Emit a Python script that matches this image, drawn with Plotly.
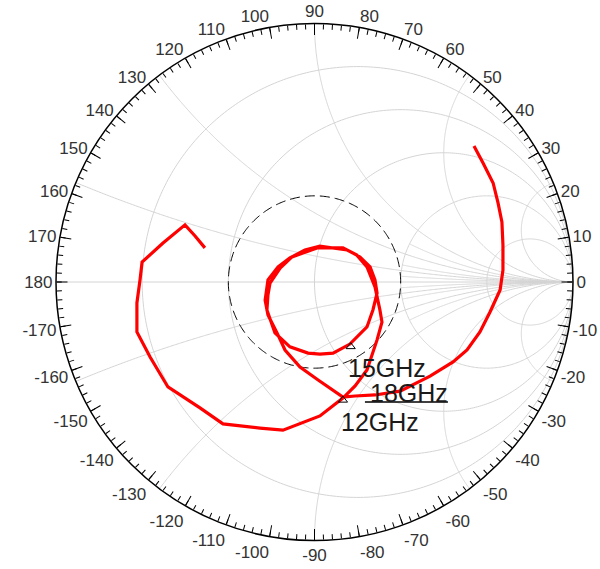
import numpy as np
import plotly.graph_objects as go

s11_re = [0.617, 0.652, 0.691, 0.710, 0.725, 0.729, 0.729, 0.718, 0.679, 0.640,
          0.590, 0.536, 0.447, 0.331, 0.234, 0.157, 0.110, 0.014, -0.056, -0.114,
          -0.145, -0.180, -0.191, -0.180, -0.141, -0.095, -0.037, 0.021, 0.126, 0.176,
          0.215, 0.234, 0.242, 0.226, 0.203, 0.137, 0.072, 0.021, -0.025, -0.095,
          -0.153, -0.184, -0.180, -0.172, -0.133, -0.087, 0.010, 0.110, 0.164, 0.203,
          0.234, 0.253, 0.261, 0.242, 0.203, 0.157, 0.110, 0.021, -0.122, -0.211,
          -0.354, -0.443, -0.567, -0.636, -0.687, -0.687, -0.675, -0.667, -0.586, -0.501,
          -0.462, -0.424]
s11_im = [0.526, 0.460, 0.383, 0.306, 0.232, 0.143, 0.046, -0.031, -0.116, -0.193,
          -0.263, -0.309, -0.364, -0.422, -0.437, -0.441, -0.445, -0.379, -0.329, -0.263,
          -0.197, -0.128, -0.070, 0.008, 0.058, 0.093, 0.124, 0.139, 0.124, 0.097,
          0.058, 0.008, -0.043, -0.108, -0.174, -0.240, -0.275, -0.279, -0.275, -0.251,
          -0.197, -0.108, -0.050, -0.004, 0.054, 0.097, 0.132, 0.132, 0.104, 0.058,
          -0.019, -0.108, -0.155, -0.224, -0.340, -0.402, -0.449, -0.518, -0.573, -0.565,
          -0.549, -0.487, -0.406, -0.290, -0.193, -0.081, 0.008, 0.077, 0.151, 0.221,
          0.178, 0.132]

# frequency markers
marker_freq = ["12GHz", "15GHz", "18GHz"]
marker_re = [0.110, 0.140, 0.110]
marker_im = [-0.457, -0.250, -0.449]

# Smith grid
r_circles = [0.2, 0.5, 1, 2, 5]
x_arcs = [0.2, 0.5, 1, 2, 5]
x_fine = [0.1, 0.3, 0.7]  # only drawn inside r = 2
vswr = 2

angle_major = list(range(0, 360, 10))
angle_text = [str(a if a <= 180 else a - 360) for a in angle_major]
angle_minor = list(range(0, 360, 2))

W, H = 600, 569
M = dict(l=53, r=24, t=20, b=25)
LABEL_PAD = 3  # angle labels sit a little further out than the chart edge
GRID = "#d4d4d4"
FONT = "Liberation Sans, Arial"


def polar(g):
    g = np.asarray(g, dtype=complex)
    return np.abs(g), np.degrees(np.angle(g))


def joined(curves):
    rs, ts = [], []
    for g in curves:
        r, t = polar(g)
        rs += list(r) + [None]
        ts += list(t) + [None]
    return rs, ts


curves = [np.array([-1, 1])]
phi = np.linspace(0, 2 * np.pi, 400)
for r in r_circles:
    curves.append(r / (1 + r) + np.exp(1j * phi) / (1 + r))
ramp = np.tan(np.linspace(0, np.pi / 2 - 1e-3, 400))
for x in x_arcs:
    for s in (1, -1):
        z = ramp + 1j * s * x
        curves.append((z - 1) / (z + 1))
for x in x_fine:
    for s in (1, -1):
        z = 2 + ramp + 1j * s * x
        curves.append((z - 1) / (z + 1))
grid_r, grid_t = joined(curves)

fig = go.Figure()
fig.add_trace(go.Scatterpolar(r=grid_r, theta=grid_t, mode="lines",
                              line=dict(color=GRID, width=1), hoverinfo="skip"))

# VSWR circle
g_v = (vswr - 1) / (vswr + 1)
vr, vt = polar(g_v * np.exp(1j * phi))
fig.add_trace(go.Scatterpolar(r=vr, theta=vt, mode="lines",
                              line=dict(color="black", width=1, dash="10px,5px"), hoverinfo="skip"))

s11 = np.array(s11_re) + 1j * np.array(s11_im)
sr, st = polar(s11)
fig.add_trace(go.Scatterpolar(r=sr, theta=st, mode="lines", line=dict(color="#ff0000", width=3.2)))

mk = np.array(marker_re) + 1j * np.array(marker_im)
mr, mt = polar(mk[:2])
fig.add_trace(go.Scatterpolar(r=mr, theta=mt, mode="markers",
                              marker=dict(symbol="triangle-up-open", size=8, color="black",
                                          line=dict(width=1, color="black"))))

# invisible traces so the extra polars (major ticks, labels) are drawn
for sp in ("polar2", "polar3"):
    fig.add_trace(go.Scatterpolar(r=[0], theta=[0], mode="markers", marker=dict(opacity=0),
                                  hoverinfo="skip", subplot=sp))

pw, ph = W - M["l"] - M["r"], H - M["t"] - M["b"]
inner = dict(x=[LABEL_PAD / pw, 1 - LABEL_PAD / pw], y=[LABEL_PAD / ph, 1 - LABEL_PAD / ph])
hidden_r = dict(range=[0, 1], visible=False, showgrid=False)
base_axis = dict(direction="counterclockwise", rotation=0, showgrid=False, tickmode="array",
                 tickcolor="black")
fig.update_layout(
    width=W, height=H, margin=M, showlegend=False,
    paper_bgcolor="white", plot_bgcolor="white",
    polar=dict(
        domain=inner, bgcolor="white", radialaxis=hidden_r,
        angularaxis=dict(base_axis, tickvals=angle_minor, ticks="inside", ticklen=5, tickwidth=1,
                         showticklabels=False, showline=True, linecolor="black", linewidth=1.5),
    ),
    polar2=dict(
        domain=inner, bgcolor="rgba(0,0,0,0)", radialaxis=hidden_r,
        angularaxis=dict(base_axis, tickvals=angle_major, ticks="inside", ticklen=11,
                         tickwidth=1.2, showline=False, showticklabels=False),
    ),
    polar3=dict(
        domain=dict(x=[0, 1], y=[0, 1]), bgcolor="rgba(0,0,0,0)", radialaxis=hidden_r,
        angularaxis=dict(base_axis, tickvals=angle_major, ticktext=angle_text, ticks="",
                         showline=False,
                         tickfont=dict(family=FONT, size=17, color="#333333")),
    ),
)

# marker labels placed relative to the marker positions
rad = min(pw, ph) / 2 - LABEL_PAD
label_shift = {"12GHz": (-4, -6), "15GHz": (-5, -5), "18GHz": (25, 21)}
for name, g in zip(marker_freq, mk):
    px = 0.5 + g.real * rad / pw
    py = 0.5 + g.imag * rad / ph
    dx, dy = label_shift[name]
    fig.add_annotation(x=px, y=py, xref="paper", yref="paper", text=name, showarrow=False,
                       xanchor="left", yanchor="top", xshift=dx, yshift=dy,
                       font=dict(family=FONT, size=25, color="#1a1a1a"))
    if name == "18GHz":
        fig.add_shape(type="line", xref="paper", yref="paper", xsizemode="pixel", ysizemode="pixel",
                      xanchor=px, yanchor=py, x0=22, x1=105, y0=-4, y1=-4,
                      line=dict(color="black", width=1.5))

# the page should start at the top-left corner, without the default body margin
fig.write_html("out.html", config={"displayModeBar": False},
               post_script="document.body.style.margin = '0';")
